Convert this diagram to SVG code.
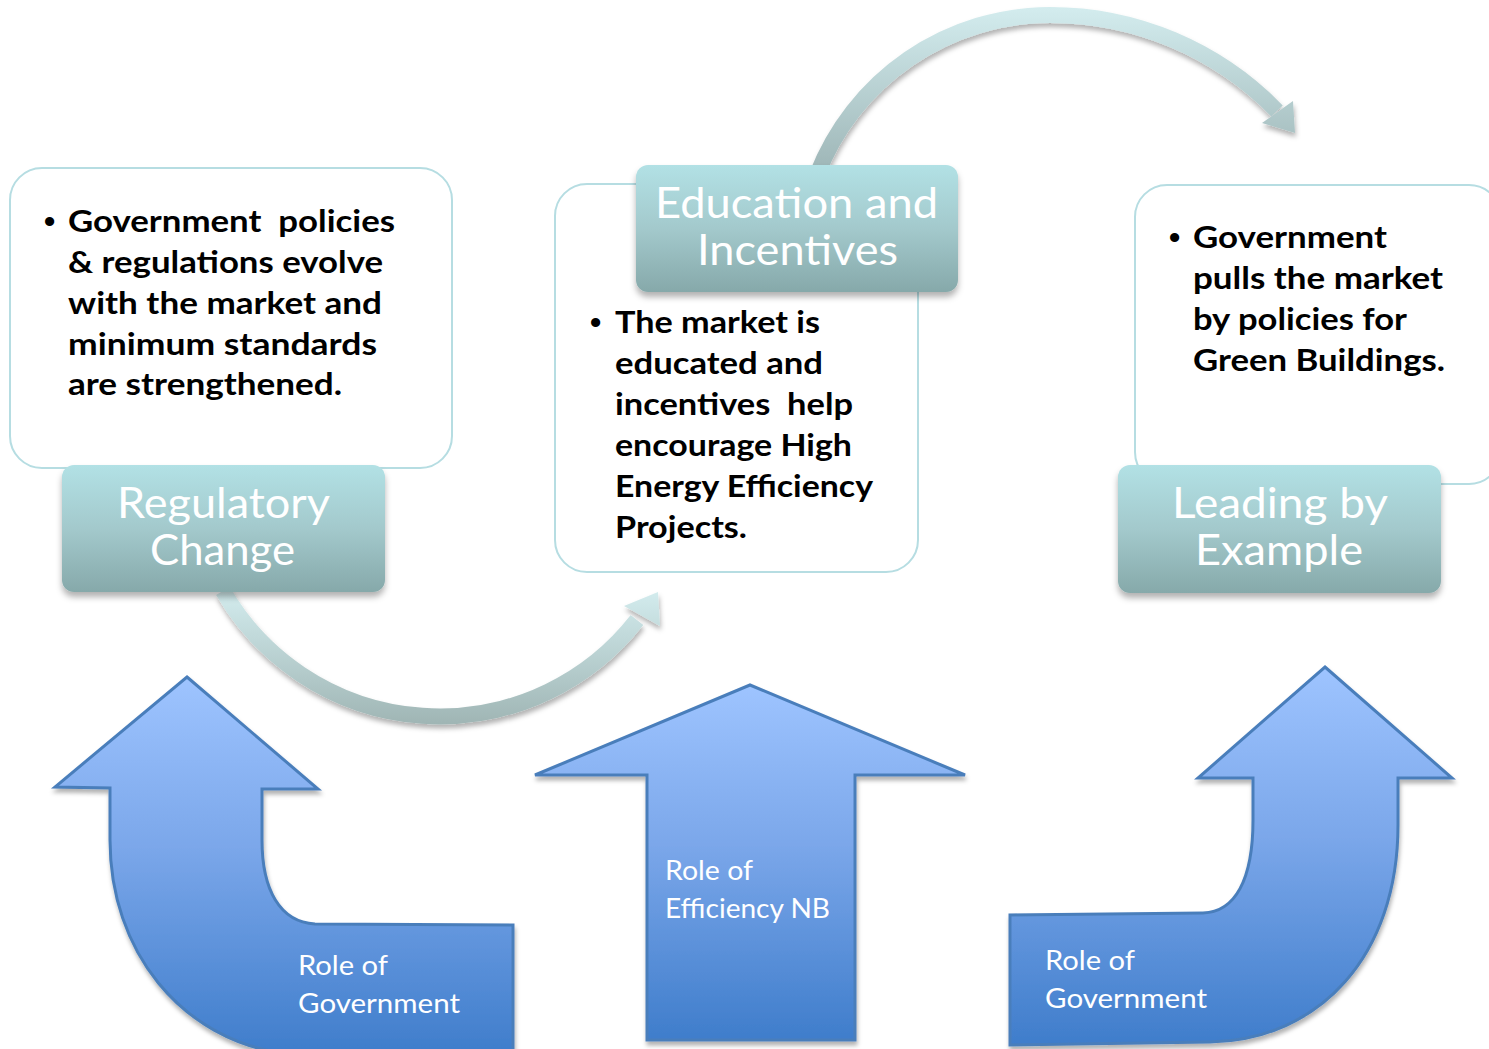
<svg xmlns="http://www.w3.org/2000/svg" width="1489" height="1049" viewBox="0 0 1489 1049">
<defs>
<style>
.box{fill:#ffffff;stroke:#b6dde2;stroke-width:2}
.lab{fill:url(#labGrad);filter:url(#labShadow)}
.labtxt{font-family:Lato,"Liberation Sans",sans-serif;font-size:42px;fill:#ffffff}
.body{font-family:Lato,"Liberation Sans",sans-serif;font-size:31px;font-weight:bold;fill:#000000;white-space:pre}
.bul{font-family:"Liberation Sans",sans-serif;font-size:32px;font-weight:bold;fill:#000000}
.blue{fill:url(#blueGrad);stroke:#4a7ebb;stroke-width:3;stroke-linejoin:miter;filter:url(#blueShadow)}
.bluetxt{font-family:Lato,"Liberation Sans",sans-serif;font-size:27px;fill:#ffffff}
</style>
<linearGradient id="labGrad" x1="0" y1="0" x2="0" y2="1">
<stop offset="0" stop-color="#b2e1e5"/>
<stop offset="0.5" stop-color="#a3c9cc"/>
<stop offset="1" stop-color="#86a9aa"/>
</linearGradient>
<linearGradient id="blueGrad" x1="0" y1="0" x2="0" y2="1">
<stop offset="0" stop-color="#9ec4ff"/>
<stop offset="0.45" stop-color="#7ba7ea"/>
<stop offset="1" stop-color="#3f7dcb"/>
</linearGradient>
<linearGradient id="arc1Grad" gradientUnits="userSpaceOnUse" x1="0" y1="590" x2="0" y2="725">
<stop offset="0" stop-color="#d3ecee"/>
<stop offset="1" stop-color="#9fb5b4"/>
</linearGradient>
<linearGradient id="arc2Grad" gradientUnits="userSpaceOnUse" x1="0" y1="8" x2="0" y2="170">
<stop offset="0" stop-color="#d3ecee"/>
<stop offset="1" stop-color="#9eb6b7"/>
</linearGradient>
<filter id="labShadow" x="-10%" y="-10%" width="120%" height="130%">
<feDropShadow dx="0" dy="5" stdDeviation="3" flood-color="#000000" flood-opacity="0.3"/>
</filter>
<filter id="arcShadow" x="-10%" y="-10%" width="120%" height="130%">
<feDropShadow dx="1" dy="4" stdDeviation="2.5" flood-color="#000000" flood-opacity="0.3"/>
</filter>
<filter id="blueShadow" x="-10%" y="-10%" width="120%" height="130%">
<feDropShadow dx="1" dy="4" stdDeviation="2" flood-color="#000000" flood-opacity="0.3"/>
</filter>
</defs>
<rect x="0" y="0" width="1489" height="1049" fill="#ffffff"/>

<g id="connectors">
<g id="arc-regulatory-to-education" filter="url(#arcShadow)">
<path d="M 223 591 A 250 250 0 0 0 637 620" fill="none" stroke="url(#arc1Grad)" stroke-width="16"/>
<polygon points="658,592 660,626 624,606" fill="url(#arc1Grad)"/>
</g>
<g id="arc-education-to-leading" filter="url(#arcShadow)">
<path d="M 817 175 A 250 250 0 0 1 1050 15 A 316 316 0 0 1 1277 111" fill="none" stroke="url(#arc2Grad)" stroke-width="16"/>
<polygon points="1293,101 1295,133 1262,123" fill="url(#arc2Grad)"/>
</g>
</g>

<g id="node-regulatory">
<rect class="box" x="10" y="168" width="442" height="300" rx="32"/>
<text class="bul" x="44" y="232">•</text>
<text class="body" x="68" y="232" textLength="327" lengthAdjust="spacingAndGlyphs" xml:space="preserve">Government  policies</text>
<text class="body" x="68" y="273" textLength="315" lengthAdjust="spacingAndGlyphs">&amp; regulations evolve</text>
<text class="body" x="68" y="314" textLength="314" lengthAdjust="spacingAndGlyphs">with the market and</text>
<text class="body" x="68" y="355" textLength="309" lengthAdjust="spacingAndGlyphs">minimum standards</text>
<text class="body" x="68" y="395" textLength="274" lengthAdjust="spacingAndGlyphs">are strengthened.</text>
<rect class="lab" x="62" y="465" width="323" height="127" rx="12"/>
<text class="labtxt" x="117" y="518" textLength="213" lengthAdjust="spacingAndGlyphs">Regulatory</text>
<text class="labtxt" x="150" y="565" textLength="145" lengthAdjust="spacingAndGlyphs">Change</text>
</g>

<g id="node-education">
<rect class="box" x="555" y="184" width="363" height="388" rx="32"/>
<rect class="lab" x="636" y="165" width="322" height="127" rx="12"/>
<text class="labtxt" x="655" y="218" textLength="283" lengthAdjust="spacingAndGlyphs">Education and</text>
<text class="labtxt" x="697" y="265" textLength="201" lengthAdjust="spacingAndGlyphs">Incentives</text>
<text class="bul" x="590" y="333">•</text>
<text class="body" x="615" y="333" textLength="205" lengthAdjust="spacingAndGlyphs">The market is</text>
<text class="body" x="615" y="374" textLength="208" lengthAdjust="spacingAndGlyphs">educated and</text>
<text class="body" x="615" y="415" textLength="238" lengthAdjust="spacingAndGlyphs" xml:space="preserve">incentives  help</text>
<text class="body" x="615" y="456" textLength="237" lengthAdjust="spacingAndGlyphs">encourage High</text>
<text class="body" x="615" y="497" textLength="258" lengthAdjust="spacingAndGlyphs">Energy Efficiency</text>
<text class="body" x="615" y="538" textLength="132" lengthAdjust="spacingAndGlyphs">Projects.</text>
</g>

<g id="node-leading">
<rect class="box" x="1135" y="185" width="366" height="299" rx="32"/>
<text class="bul" x="1169" y="248">•</text>
<text class="body" x="1193" y="248" textLength="194" lengthAdjust="spacingAndGlyphs">Government</text>
<text class="body" x="1193" y="289" textLength="250" lengthAdjust="spacingAndGlyphs">pulls the market</text>
<text class="body" x="1193" y="330" textLength="214" lengthAdjust="spacingAndGlyphs">by policies for</text>
<text class="body" x="1193" y="371" textLength="252" lengthAdjust="spacingAndGlyphs">Green Buildings.</text>
<rect class="lab" x="1118" y="465" width="323" height="128" rx="12"/>
<text class="labtxt" x="1172" y="518" textLength="216" lengthAdjust="spacingAndGlyphs">Leading by</text>
<text class="labtxt" x="1195" y="565" textLength="168" lengthAdjust="spacingAndGlyphs">Example</text>
</g>

<g id="node-role-government-left">
<path class="blue" d="M 187 677 L 318 789 L 262 789 L 262 840 C 262 890 280 922 315 924 L 513 925 L 513 1054 L 287 1054 C 180 1040 110 950 110 840 L 110 788 L 55 787 Z"/>
<text class="bluetxt" x="298" y="975" textLength="90" lengthAdjust="spacingAndGlyphs">Role of</text>
<text class="bluetxt" x="298" y="1013" textLength="162" lengthAdjust="spacingAndGlyphs">Government</text>
</g>

<g id="node-role-efficiency">
<path class="blue" d="M 750 685 L 965 775 L 855 775 L 855 1040 L 647 1040 L 647 775 L 535 775 Z"/>
<text class="bluetxt" x="665" y="880" textLength="88" lengthAdjust="spacingAndGlyphs">Role of</text>
<text class="bluetxt" x="665" y="918" textLength="165" lengthAdjust="spacingAndGlyphs">Efficiency NB</text>
</g>

<g id="node-role-government-right">
<path class="blue" d="M 1325 667 L 1452 778 L 1398 778 L 1398 825 C 1398 955 1320 1040 1210 1042 L 1010 1045 L 1010 915 L 1203 913 C 1235 912 1253 880 1253 820 L 1253 778 L 1198 778 Z"/>
<text class="bluetxt" x="1045" y="970" textLength="90" lengthAdjust="spacingAndGlyphs">Role of</text>
<text class="bluetxt" x="1045" y="1008" textLength="162" lengthAdjust="spacingAndGlyphs">Government</text>
</g>
</svg>
